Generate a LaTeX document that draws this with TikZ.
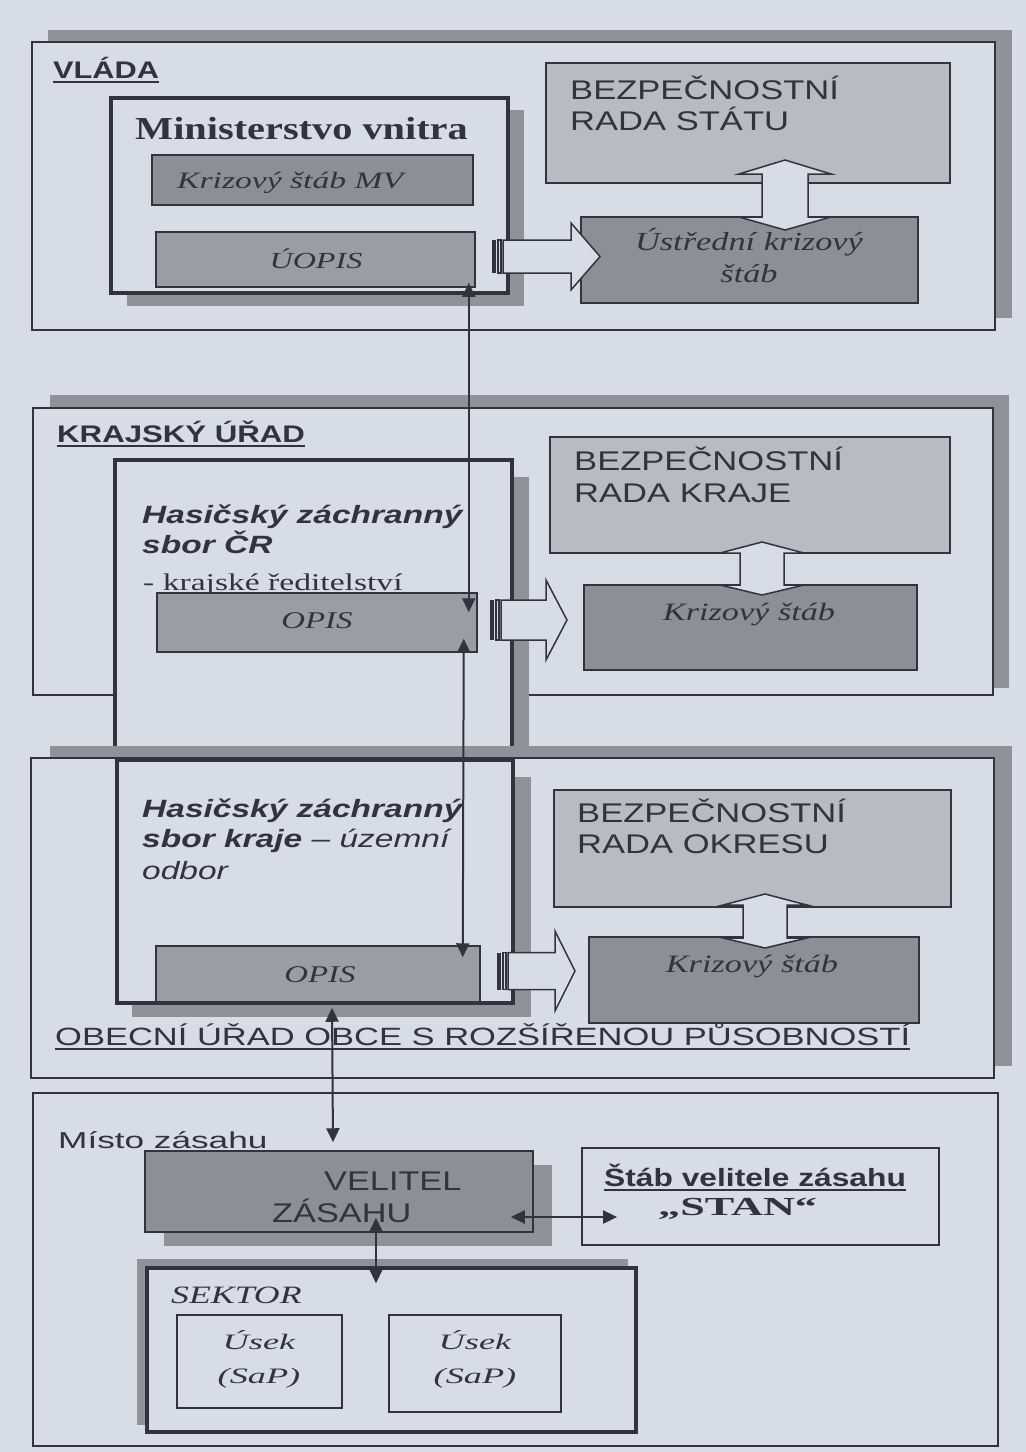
\documentclass[tikz,border=0pt]{standalone}
\usepackage{fontspec}
\usepackage{graphicx}
\setmainfont{Liberation Serif}
\setsansfont{Liberation Sans}
\usetikzlibrary{fit,calc,arrows.meta}
\definecolor{bg}{RGB}{214,221,231}
\definecolor{ink}{RGB}{48,52,62}
\definecolor{darkfill}{RGB}{138,143,152}
\definecolor{midfill}{RGB}{152,157,166}
\definecolor{lightfill}{RGB}{182,187,196}
\definecolor{shad}{RGB}{142,147,155}
\newsavebox\ulbox
\newcommand\myul[1]{\sbox\ulbox{#1}\rlap{\rule[-5pt]{\wd\ulbox}{2.2pt}}\usebox\ulbox}
\newcommand\sx[2]{\scalebox{#1}[1]{#2}}
\newcommand\fs[1]{\fontsize{#1pt}{#1pt}\selectfont}
\newcommand\mybox[6][]{\node[#1, fit={(#3,#4) (#5,#6)}, inner sep=0pt] (#2) {};}
\newcommand\vdarrow[7]{%
\draw[hollow] (#1,#2) -- (#1+#7,#3) -- (#1+#6,#3) -- (#1+#6,#4) -- (#1+#7,#4) -- (#1,#5) -- (#1-#7,#4) -- (#1-#6,#4) -- (#1-#6,#3) -- (#1-#7,#3) -- cycle;}
\newcommand\sarrow[6]{%
\fill[ink] (#1,#2-#3) rectangle (#1+4,#2+#3);
\draw[hollow] (#1+6,#2-#3) rectangle (#1+9,#2+#3);
\draw[hollow] (#1+11,#2-#3) -- (#5,#2-#3) -- (#5,#2-#4) -- (#6,#2) -- (#5,#2+#4) -- (#5,#2+#3) -- (#1+11,#2+#3) -- cycle;}
\tikzset{
 frame/.style={draw=ink, line width=1.8pt, fill=bg},
 thickframe/.style={draw=ink, line width=3.5pt, fill=bg},
 shadowfill/.style={fill=shad, draw=none},
 darkbox/.style={draw=ink, line width=1.5pt, fill=darkfill},
 midbox/.style={draw=ink, line width=1.5pt, fill=midfill},
 lightbox/.style={draw=ink, line width=1.5pt, fill=lightfill},
 lbl/.style={inner sep=0pt, text=ink},
 hollow/.style={draw=ink, line width=1.5pt, fill=bg, line join=miter},
 conn/.style={draw=ink, line width=2pt, {Triangle[length=14pt,width=13pt]}-{Triangle[length=14pt,width=13pt]}},
}
\begin{document}
\begin{tikzpicture}[x=1pt,y=-1pt]
\useasboundingbox (0,0) rectangle (1026,1452);
\fill[bg] (0,0) rectangle (1026,1452);

% ================= VLADA =================
\fill[shadowfill] (48,30) rectangle (1012,318);
\mybox[frame]{vlada}{32}{42}{995}{330}
\node[lbl, anchor=base west, font=\sffamily\bfseries\fs{24}] (tvlada) at (53,78) {\sx{1.28}{\myul{VLÁDA}}};

\fill[shadowfill] (127,110) rectangle (524,306);
\mybox[thickframe]{mv}{111}{98}{508}{293}
\node[lbl, anchor=base west, font=\rmfamily\bfseries\fs{32}] (tmv) at (135,139) {\sx{1.26}{Ministerstvo vnitra}};
\mybox[darkbox]{kmv}{152}{155}{473}{205}
\node[lbl, anchor=base west, font=\rmfamily\itshape\fs{23.5}] (tkmv) at (177,188) {\sx{1.43}{Krizový štáb MV}};
\mybox[midbox]{uopis}{156}{232}{475}{287}
\node[lbl, anchor=base, font=\rmfamily\itshape\fs{23}] (tuopis) at (316,268) {\sx{1.4}{ÚOPIS}};

\mybox[lightbox]{brs}{546}{63}{950}{183}
\node[lbl, anchor=base west, font=\sffamily\fs{27}] (tbrs1) at (570,99) {\sx{1.28}{BEZPEČNOSTNÍ}};
\node[lbl, anchor=base west, font=\sffamily\fs{27}] (tbrs2) at (570,130) {\sx{1.28}{RADA STÁTU}};
\mybox[darkbox]{uks}{581}{217}{918}{303}
\node[lbl, anchor=base, font=\rmfamily\itshape\fs{26}] (tuks1) at (749,250) {\sx{1.32}{Ústřední krizový}};
\node[lbl, anchor=base, font=\rmfamily\itshape\fs{26}] (tuks2) at (749,282) {\sx{1.32}{štáb}};
\vdarrow{785}{160}{174}{217}{230}{23}{46}
\sarrow{492}{256.5}{16.5}{33.5}{571}{600}

% ================= KRAJSKY URAD =================
\fill[shadowfill] (50,395) rectangle (1009,688);
\mybox[frame]{kraj}{33}{408}{993}{695}
\node[lbl, anchor=base west, font=\sffamily\bfseries\fs{24}] (tkraj) at (57,442) {\sx{1.30}{\myul{KRAJSKÝ ÚŘAD}}};
\mybox[lightbox]{brk}{550}{437}{950}{553}
\node[lbl, anchor=base west, font=\sffamily\fs{27}] (tbrk1) at (574,470) {\sx{1.28}{BEZPEČNOSTNÍ}};
\node[lbl, anchor=base west, font=\sffamily\fs{27}] (tbrk2) at (574,502) {\sx{1.28}{RADA KRAJE}};
\mybox[darkbox]{ksk}{584}{585}{917}{670}
\node[lbl, anchor=base, font=\rmfamily\itshape\fs{25}] (tksk) at (749,620) {\sx{1.37}{Krizový štáb}};
\vdarrow{762}{542}{553}{585}{595}{22}{42}

\fill[shadowfill] (130,477) rectangle (529,752);
\mybox[thickframe]{hzscr}{115}{460}{512}{752}
\node[lbl, anchor=base west, font=\sffamily\bfseries\itshape\fs{25}] (thz1) at (142,523) {\sx{1.34}{Hasičský záchranný}};
\node[lbl, anchor=base west, font=\sffamily\bfseries\itshape\fs{25}] (thz2) at (142,553) {\sx{1.34}{sbor ČR}};
\node[lbl, anchor=base west, font=\rmfamily\fs{24}] (tkr) at (143,590) {\sx{1.4}{- krajské ředitelství}};
\mybox[midbox]{opisk}{157}{593}{477}{652}
\node[lbl, anchor=base, font=\rmfamily\itshape\fs{24}] (topk) at (317,628) {\sx{1.37}{OPIS}};
\sarrow{490}{620}{20}{40}{546}{567}

% ================= OKRES / ORP =================
\fill[shadowfill] (50,746) rectangle (1012,1066);
\mybox[frame]{okres}{31}{758}{994}{1078}
\mybox[lightbox]{bro}{554}{790}{951}{907}
\node[lbl, anchor=base west, font=\sffamily\fs{27}] (tbro1) at (577,822) {\sx{1.28}{BEZPEČNOSTNÍ}};
\node[lbl, anchor=base west, font=\sffamily\fs{27}] (tbro2) at (577,853) {\sx{1.28}{RADA OKRESU}};
\mybox[darkbox]{kso}{589}{937}{919}{1023}
\node[lbl, anchor=base, font=\rmfamily\itshape\fs{25}] (tkso) at (752,972) {\sx{1.37}{Krizový štáb}};
\vdarrow{765}{894}{905}{938}{948}{22}{42}

\fill[shadowfill] (132,777) rectangle (531,1017);
\mybox[thickframe]{hzsk}{117}{760}{513}{1003}
\node[lbl, anchor=base west, font=\sffamily\bfseries\itshape\fs{25}] (tho1) at (142,817) {\sx{1.34}{Hasičský záchranný}};
\node[lbl, anchor=base west, font=\sffamily\itshape\fs{25}] (tho2) at (142,847) {\sx{1.34}{{\bfseries sbor kraje} – územní}};
\node[lbl, anchor=base west, font=\sffamily\itshape\fs{25}] (tho3) at (142,879) {\sx{1.34}{odbor}};
\mybox[midbox]{opiso}{156}{946}{480}{1002}
\node[lbl, anchor=base, font=\rmfamily\itshape\fs{24}] (topo) at (320,982) {\sx{1.37}{OPIS}};
\sarrow{497}{971}{18.5}{40}{555}{575}
\node[lbl, anchor=base west, font=\sffamily\fs{25}] (tobec) at (55,1045) {\sx{1.38}{\myul{OBECNÍ ÚŘAD OBCE S ROZŠÍŘENOU PŮSOBNOSTÍ}}};

% ================= MISTO ZASAHU =================
\mybox[frame]{misto}{33}{1093}{998}{1446}
\node[lbl, anchor=base west, font=\sffamily\fs{23}] (tmisto) at (58,1148) {\sx{1.53}{Místo zásahu}};
\fill[shadowfill] (164,1165) rectangle (552,1246);
\mybox[darkbox]{vel}{145}{1151}{533}{1232}
\node[lbl, anchor=base west, font=\sffamily\fs{27}] (tvel1) at (324,1190) {\sx{1.27}{VELITEL}};
\node[lbl, anchor=base west, font=\sffamily\fs{27}] (tvel2) at (272,1222) {\sx{1.27}{ZÁSAHU}};
\mybox[frame]{stab}{582}{1148}{939}{1245}
\node[lbl, anchor=base west, font=\sffamily\bfseries\fs{25}] (tstab) at (604,1186) {\sx{1.27}{\myul{Štáb velitele zásahu}}};
\node[lbl, anchor=base west, font=\rmfamily\bfseries\fs{26}] (tstan) at (658,1215) {\sx{1.7}{„STAN“}};
\fill[shadowfill] (137,1259) rectangle (628,1425);
\mybox[thickframe]{sektor}{147}{1268}{636}{1432}
\node[lbl, anchor=base west, font=\rmfamily\itshape\fs{25}] (tsek) at (171,1303) {\sx{1.43}{SEKTOR}};
\mybox[frame]{usek1}{177}{1315}{342}{1408}
\mybox[frame]{usek2}{389}{1315}{561}{1412}
\node[lbl, anchor=base, font=\rmfamily\itshape\fs{22}] (tu1a) at (259,1349) {\sx{1.65}{Úsek}};
\node[lbl, anchor=base, font=\rmfamily\itshape\fs{22}] (tu1b) at (259,1383) {\sx{1.65}{(SaP)}};
\node[lbl, anchor=base, font=\rmfamily\itshape\fs{22}] (tu2a) at (475,1349) {\sx{1.65}{Úsek}};
\node[lbl, anchor=base, font=\rmfamily\itshape\fs{22}] (tu2b) at (475,1383) {\sx{1.65}{(SaP)}};

% ================= CONNECTORS =================
\coordinate (c1a) at ($(uopis.south east)+(-7,-5)$);
\coordinate (c1b) at ($(opisk.north east)+(-9,20)$);
\coordinate (c2a) at ($(opisk.south east)+(-14,-14)$);
\coordinate (c2b) at ($(opiso.north east)+(-18,12)$);
\coordinate (c3a) at ($(opiso.south)+(14,5)$);
\coordinate (c3b) at ($(vel.north)+(-6,-8)$);
\coordinate (c4a) at ($(vel.south)+(37,-15)$);
\coordinate (c4b) at ($(sektor.north)+(-15.5,17)$);
\coordinate (c5a) at ($(vel.east)+(-23,25.5)$);
\coordinate (c5b) at ($(stab.west)+(36,20.5)$);
\draw[conn] (c1a) -- (c1b);
\draw[conn] (c2a) -- (c2b);
\draw[conn] (c3a) -- (c3b);
\draw[conn] (c4a) -- (c4b);
\draw[conn] (c5a) -- (c5b);
\end{tikzpicture}
\end{document}
